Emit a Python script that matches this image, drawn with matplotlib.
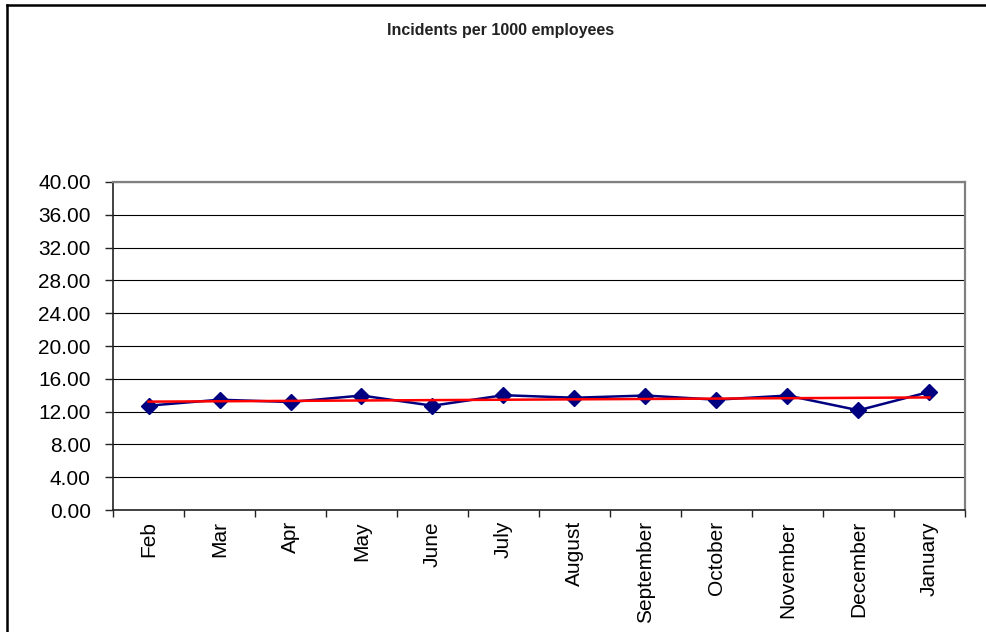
import matplotlib
matplotlib.use('Agg')
import matplotlib.pyplot as plt
from matplotlib.ticker import FormatStrFormatter
import numpy as np

# months and incident rates
months = ['Feb', 'Mar', 'Apr', 'May', 'June', 'July', 'August',
          'September', 'October', 'November', 'December', 'January']
incidents = [12.72, 13.45, 13.17, 13.96, 12.72, 14.00, 13.69,
             13.96, 13.45, 13.96, 12.16, 14.41]
y_ticks = [0, 4, 8, 12, 16, 20, 24, 28, 32, 36, 40]

plt.rcParams['font.family'] = ['Liberation Sans', 'DejaVu Sans']

W, H = 987, 632
fig = plt.figure(figsize=(W / 100, H / 100), dpi=100)
ax = fig.add_axes([113 / W, (H - 510) / H, 852 / W, 328 / H])

x = np.arange(len(months))

# data line
ax.plot(x, incidents, color='#000080', linewidth=1.8, marker='D',
        markersize=8.5, markerfacecolor='#000080', markeredgecolor='#000080',
        zorder=3)

# linear trend line
slope, intercept = np.polyfit(x, incidents, 1)
ax.plot(x, slope * x + intercept, color='#ff0000', linewidth=1.8, zorder=4)

ax.set_xlim(-0.5, len(months) - 0.5)
ax.set_ylim(0, 40)

ax.set_yticks(y_ticks)
ax.yaxis.set_major_formatter(FormatStrFormatter('%.2f'))
ax.yaxis.grid(True, color='black', linewidth=0.8)
ax.set_axisbelow(True)

# x ticks sit between categories, labels at centres
ax.set_xticks(np.arange(len(months) + 1) - 0.5)
ax.set_xticklabels([])
ax.set_xticks(x, minor=True)
ax.set_xticklabels(months, minor=True, rotation=90, fontsize=15)
ax.tick_params(axis='x', which='minor', length=0, pad=8)
ax.tick_params(axis='x', which='major', length=5, width=1, color='#222222',
               direction='out')
ax.tick_params(axis='y', length=6, width=1, color='#222222', labelsize=15,
               pad=10)

for side in ['top', 'right']:
    ax.spines[side].set_color('#808080')
    ax.spines[side].set_linewidth(1.6)
for side in ['left', 'bottom']:
    ax.spines[side].set_color('#222222')
    ax.spines[side].set_linewidth(1.2)

fig.text(501 / W, 1 - 31 / H, 'Incidents per 1000 employees',
         ha='center', va='center', fontsize=11.5, fontweight='bold',
         color='#222222')

# outer chart frame (only left and top edges are visible)
fig.add_artist(plt.Line2D([7 / W, 7 / W], [0, 1 - 5 / H],
                          transform=fig.transFigure, color='black',
                          linewidth=1.8))
fig.add_artist(plt.Line2D([7 / W, 1], [1 - 5 / H, 1 - 5 / H],
                          transform=fig.transFigure, color='black',
                          linewidth=1.8))

fig.savefig('out.png', dpi=100)
